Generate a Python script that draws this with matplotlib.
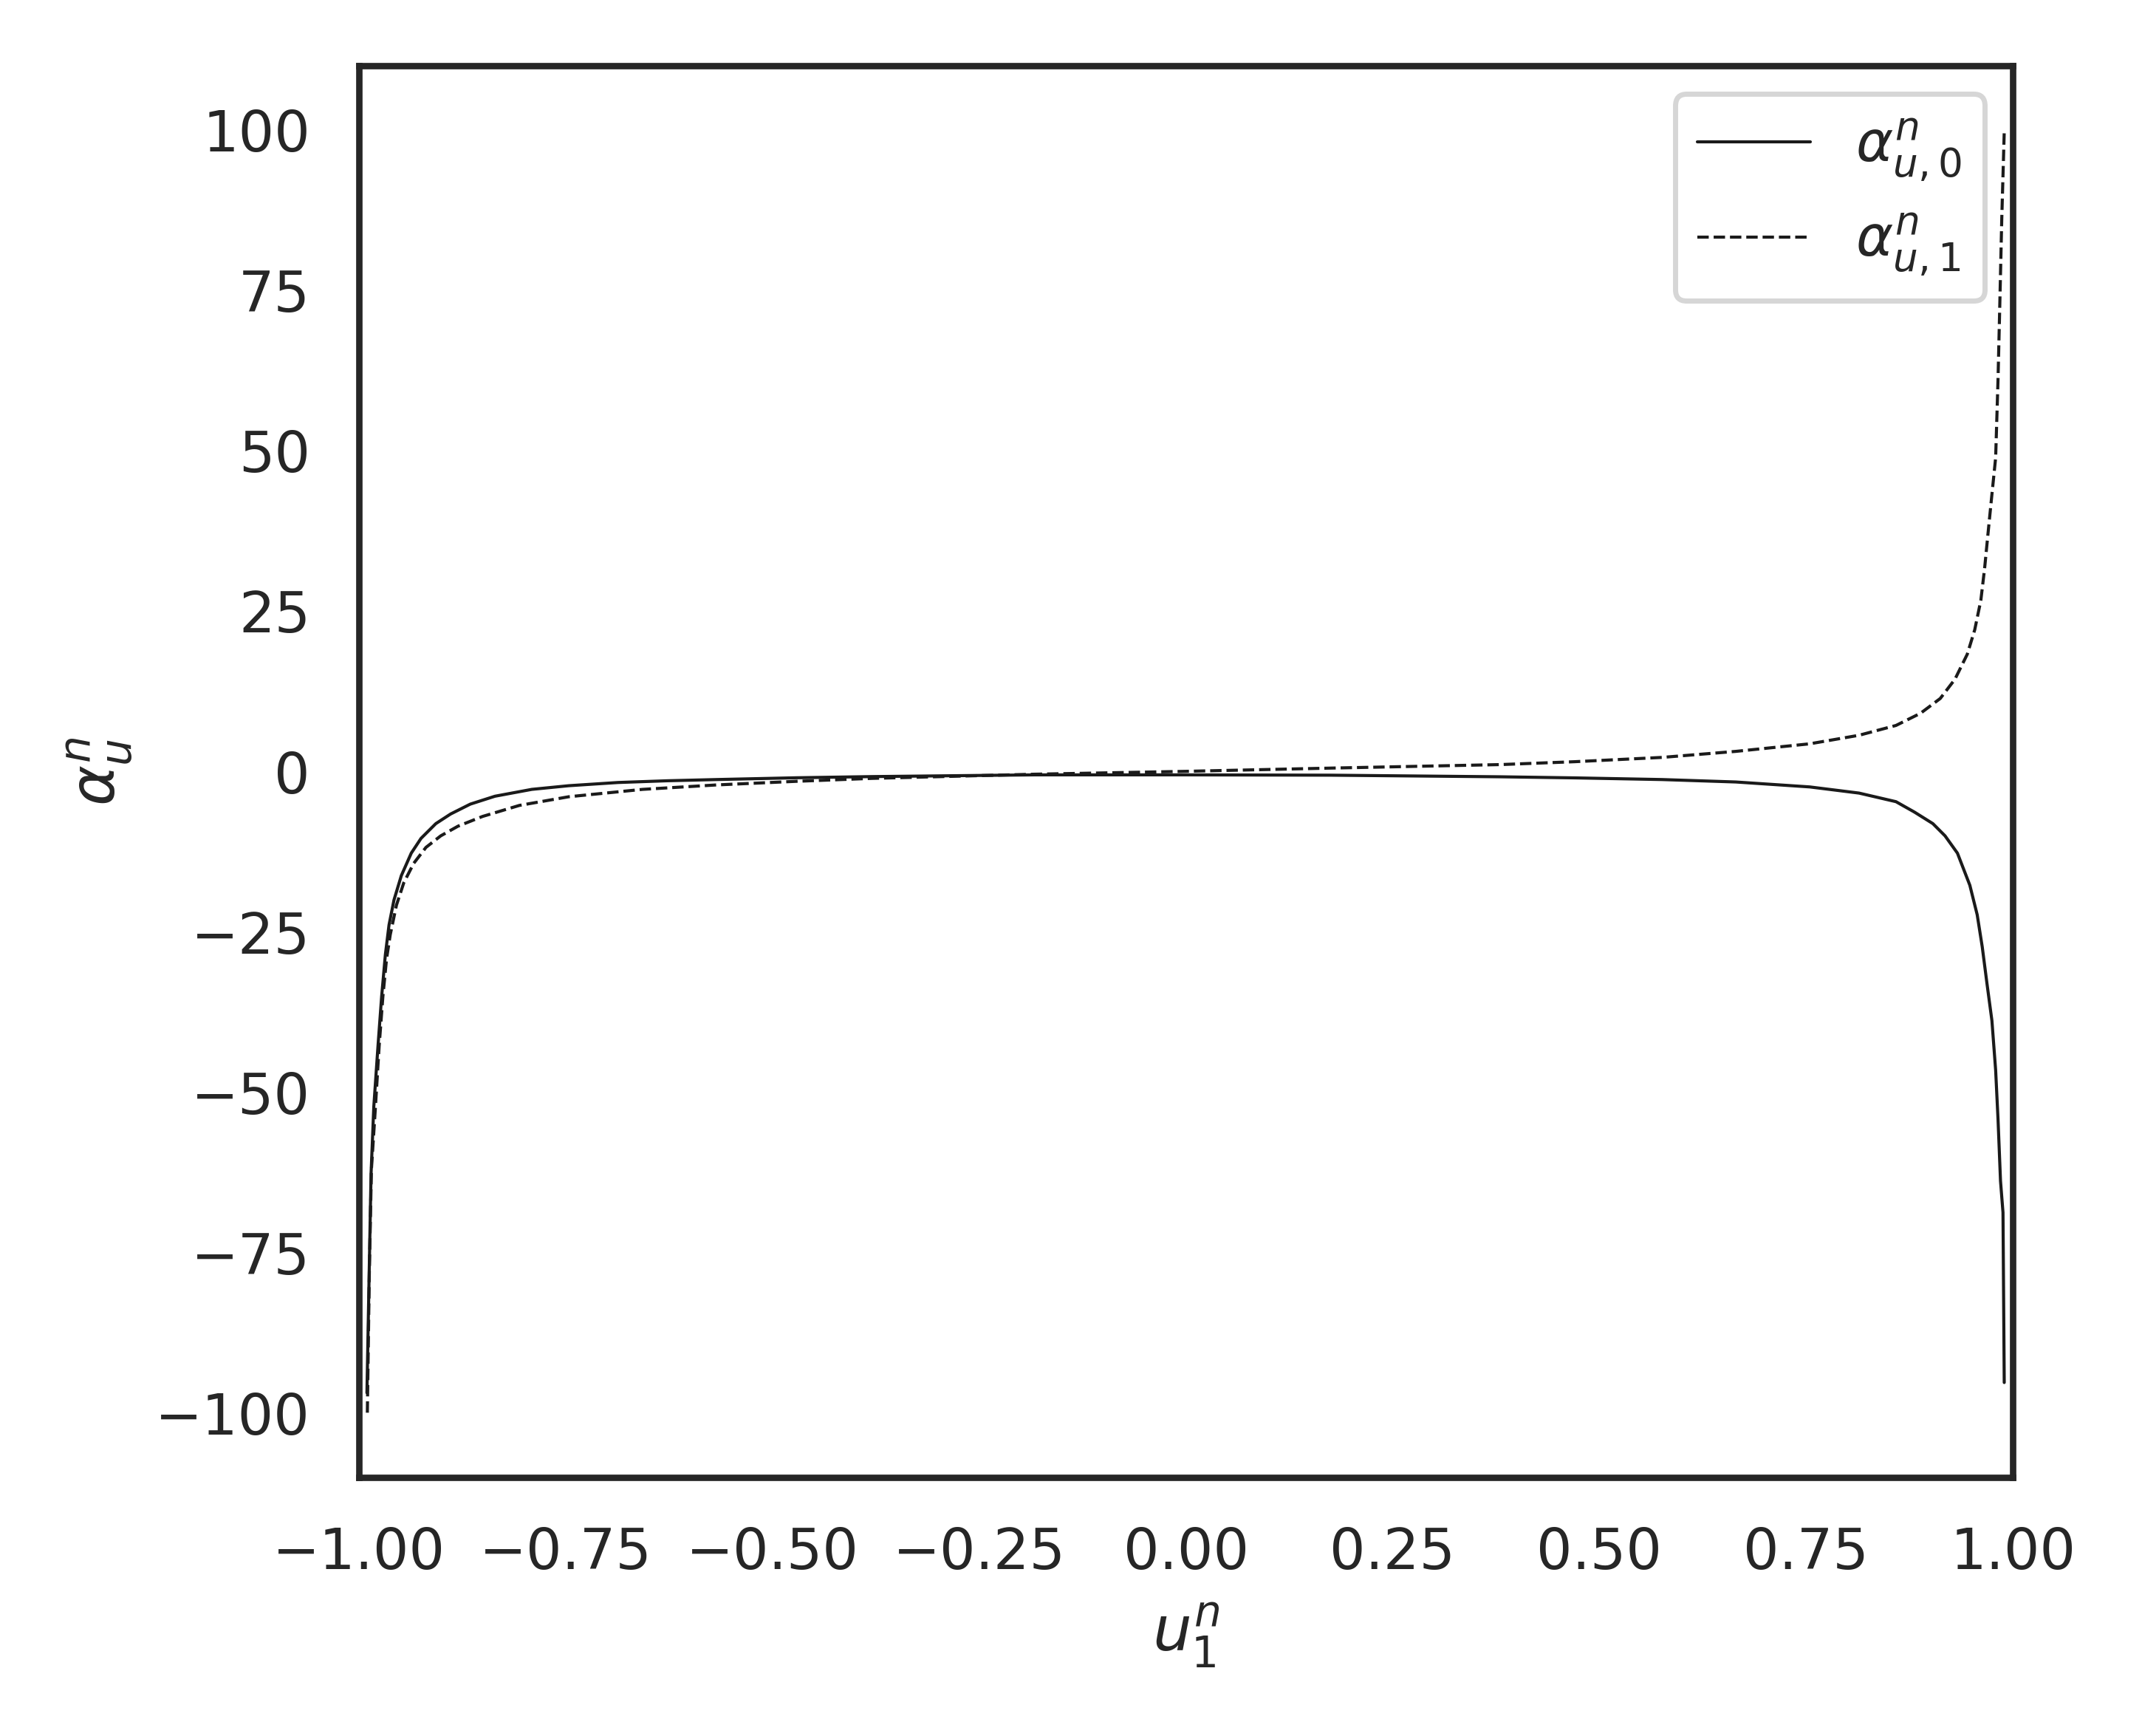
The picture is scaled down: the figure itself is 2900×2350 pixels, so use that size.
import numpy as np
import matplotlib
matplotlib.use("Agg")
import matplotlib.pyplot as plt
import seaborn as sns

# Values (u_1^n, alpha)
u_alpha0 = [-0.9904, -0.9875, -0.9854, -0.9821, -0.9770, -0.9726, -0.9681, -0.9637,
            -0.9577, -0.9488, -0.9368, -0.9250, -0.9071, -0.8892, -0.8654, -0.8356,
            -0.7910, -0.7463, -0.6867, -0.6272, -0.5677, -0.4700, -0.3800, -0.1836,
            0.0, 0.1738, 0.3800, 0.4700, 0.5757, 0.6650, 0.7544, 0.8140,
            0.8587, 0.8810, 0.9033, 0.9180, 0.9330, 0.9480, 0.9569, 0.9630,
            0.9688, 0.9747, 0.9792, 0.9821, 0.9851, 0.9881, 0.9896]
alpha0 = [-96.8, -76.8, -62.6, -52.2, -42.7, -35.0, -28.5, -23.9,
          -20.0, -16.2, -12.7, -10.4, -8.1, -6.6, -5.06, -3.83,
          -2.76, -2.19, -1.69, -1.42, -1.23, -0.95, -0.77, -0.5,
          -0.5, -0.55, -0.8, -0.97, -1.23, -1.61, -2.38, -3.34,
          -4.68, -6.3, -8.1, -10.0, -12.7, -17.7, -22.3, -27.3,
          -33.1, -38.8, -46.5, -54.2, -63.8, -68.7, -95.2]

u_alpha1 = [-0.9899, -0.9875, -0.9850, -0.9801, -0.9756, -0.9711, -0.9667, -0.9622,
            -0.9547, -0.9458, -0.9339, -0.9190, -0.9011, -0.8803, -0.8506, -0.8060,
            -0.7463, -0.6570, -0.5677, -0.4700, -0.3800, -0.1836, 0.0, 0.1738,
            0.3800, 0.4700, 0.5757, 0.6650, 0.7544, 0.8140, 0.8587, 0.8884,
            0.9122, 0.9300, 0.9449, 0.9539, 0.9613, 0.9658, 0.9702, 0.9747,
            0.9792, 0.9821, 0.9842, 0.9866, 0.9896]
alpha1 = [-99.9, -78.0, -62.0, -52.2, -42.7, -35.0, -29.2, -25.4,
          -20.8, -17.3, -14.3, -11.8, -10.0, -8.5, -6.98, -5.26,
          -3.91, -2.76, -2.07, -1.5, -1.05, -0.4, 0.05, 0.55,
          1.1, 1.55, 2.22, 3.16, 4.34, 5.67, 7.2, 9.1,
          11.4, 14.4, 18.3, 22.1, 26.7, 31.6, 37.4, 43.2,
          48.9, 61.2, 72.6, 86.1, 99.7]

xticks = [-1.0, -0.75, -0.5, -0.25, 0.0, 0.25, 0.5, 0.75, 1.0]
yticks = [-100, -75, -50, -25, 0, 25, 50, 75, 100]

def tickText(t):
    # matplotlib style minus sign
    return ("%.2f" % t).replace("-", "\u2212")

def main():

    sns.set_theme(style="white")

    fig = plt.figure(figsize=(5.8, 4.7), dpi=500)
    ax = fig.add_axes([0.1676, 0.1489, 0.7721, 0.8132])

    ax.plot(u_alpha0, alpha0, color="k", lw=0.6, ls="-", label=r"$\alpha^n_{u,0}$")
    ax.plot(u_alpha1, alpha1, color="k", lw=0.6, ls="--", label=r"$\alpha^n_{u,1}$")

    ax.set_xlim(-1, 1)
    ax.set_ylim(-110, 110)
    ax.set_xticks(xticks)
    ax.set_xticklabels([tickText(t) for t in xticks])
    ax.set_yticks(yticks)
    ax.set_xlabel(r"$u^n_1$")
    ax.set_ylabel(r"$\alpha^n_u$")
    ax.legend(loc="upper right")

    fig.savefig("out.png", dpi=500)

if __name__ == '__main__': main()
